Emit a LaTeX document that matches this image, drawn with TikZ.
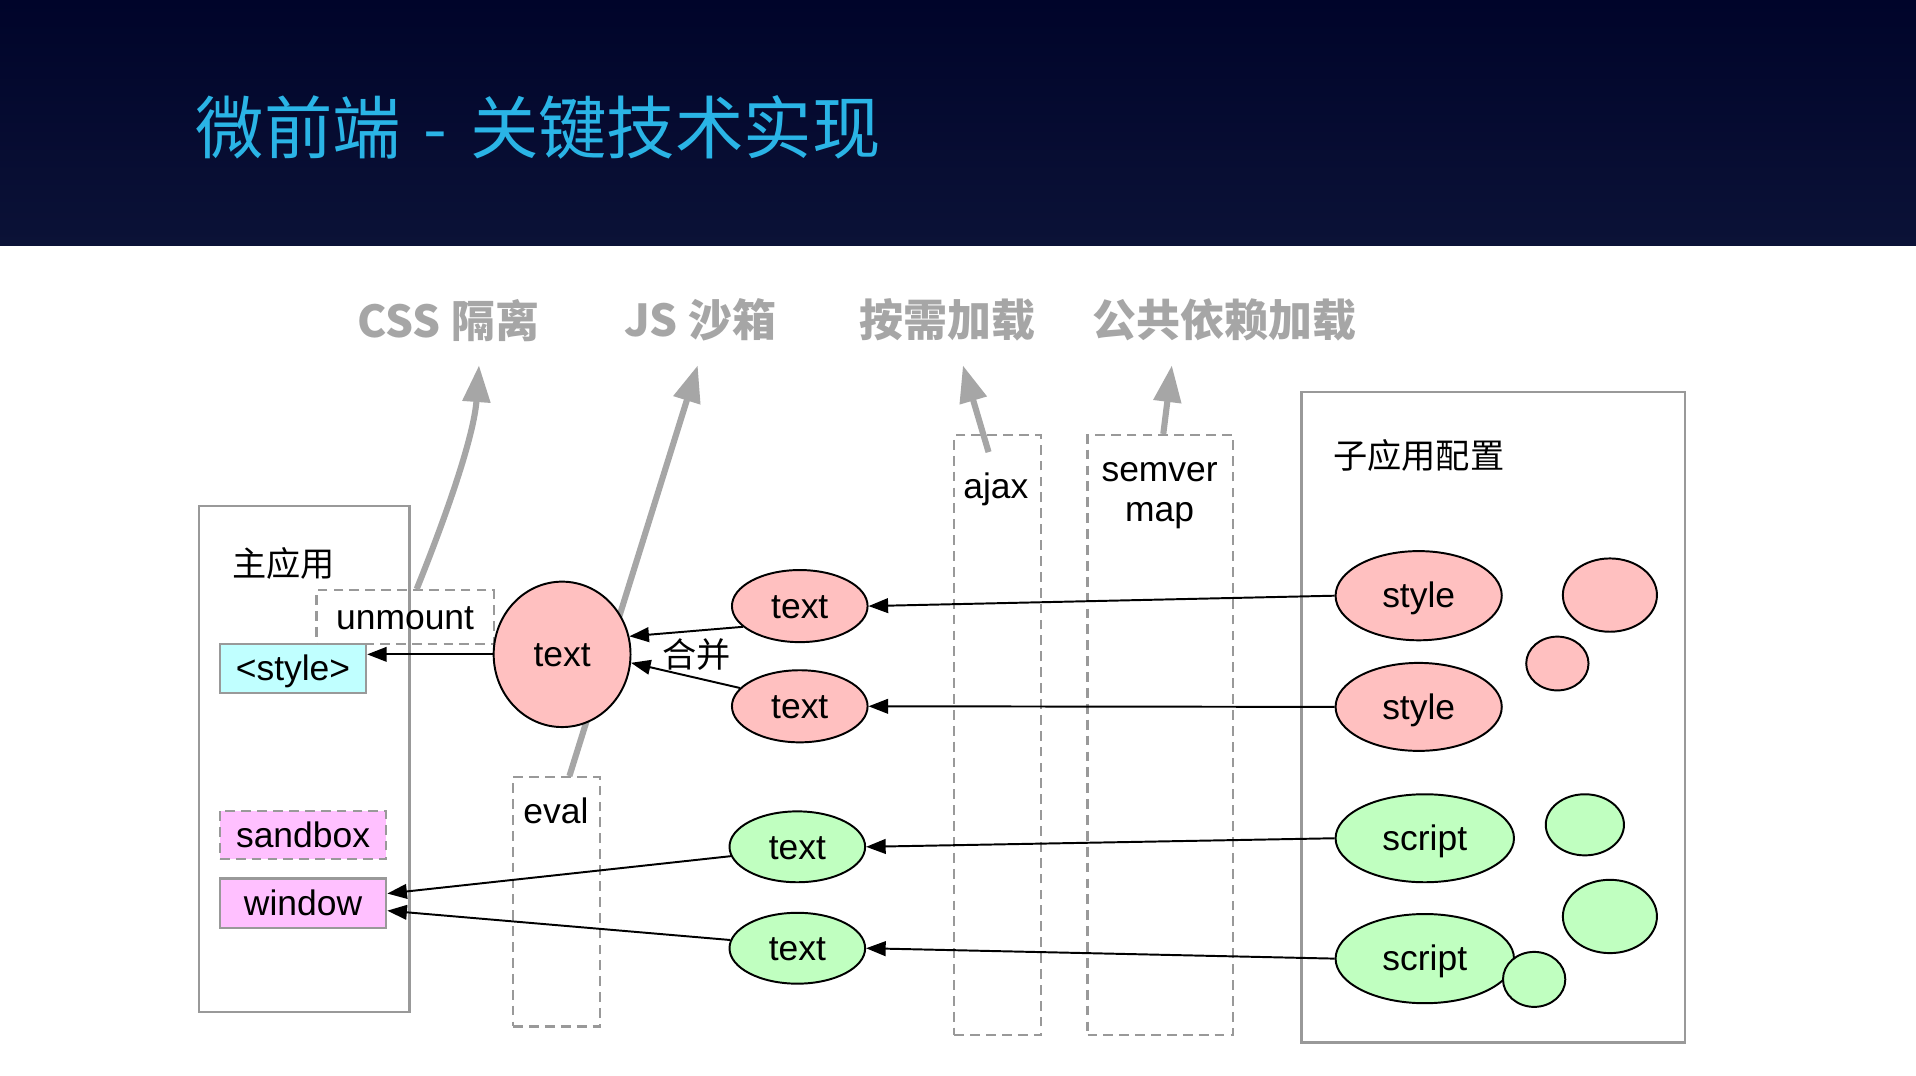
\documentclass[tikz,border=0pt]{standalone}
\usepackage{fontspec}
\setmainfont{Liberation Sans}
\newfontfamily\cjk{Noto Sans CJK SC}
\usetikzlibrary{shapes.geometric,arrows.meta}
\definecolor{pinkf}{HTML}{FFC0C0}
\definecolor{greenf}{HTML}{C0FFC0}
\definecolor{cyanf}{HTML}{C0FFFF}
\definecolor{magf}{HTML}{FFC0FF}
\definecolor{boxg}{HTML}{999999}
\definecolor{headg}{HTML}{A6A6A6}
\definecolor{navytop}{HTML}{00042A}
\definecolor{navybot}{HTML}{0B1237}
\definecolor{titlec}{HTML}{2AB4E6}
\begin{document}
\begin{tikzpicture}[x=1pt,y=-1pt,
 lbl/.style={font=\fontsize{29}{34}\selectfont, inner sep=0pt, text height=23pt, text depth=3pt},
 cjklbl/.style={font=\cjk\fontsize{28}{34}\selectfont, inner sep=0pt},
 ell/.style={ellipse, draw=black, line width=1.6pt, inner sep=0pt, lbl},
 pinkell/.style={ell, fill=pinkf},
 greenell/.style={ell, fill=greenf},
 solidbox/.style={draw=boxg, line width=2pt, inner sep=0pt},
 dbox/.style={draw=boxg, line width=1.8pt, dash pattern=on 8pt off 5pt, inner sep=0pt},
 arr/.style={draw=black, line width=1.6pt, -{Triangle[length=16pt,width=12pt]}},
 garr/.style={draw=headg, line width=5pt, -{Triangle[length=30pt,width=22pt]}},
 headtxt/.style={font=\cjk\bfseries\fontsize{36}{40}\selectfont, text=headg, inner sep=0pt},
]
\useasboundingbox (0,0) rectangle (1568,880.5);
\fill[white] (0,0) rectangle (1568,880.5);
% header
\shade[top color=navytop, bottom color=navybot] (0,0) rectangle (1568,201);
\node[anchor=west, font=\cjk\fontsize{56}{60}\selectfont, text=titlec, inner sep=0pt] (title) at (160,104) {微前端\hspace{6pt} - \hspace{6pt}关键技术实现};

% headings
\node[headtxt] (h1) at (367,262) {CSS 隔离};
\node[headtxt] (h2) at (573,262) {JS 沙箱};
\node[headtxt] (h3) at (775,262) {按需加载};
\node[headtxt] (h4) at (1002,262) {公共依赖加载};

% containers
\node[solidbox, minimum width=172pt, minimum height=414pt] (main) at (249,621) {};
\node[cjklbl] (mainlbl) at (232,461) {主应用};
\node[solidbox, minimum width=314pt, minimum height=532pt] (sub) at (1222,587) {};
\node[cjklbl] (sublbl) at (1161,373) {子应用配置};

\node[dbox, lbl, minimum width=145pt, minimum height=44pt] (um) at (331.5,505) {unmount};
\node[dbox, minimum width=71pt, minimum height=204pt] (ev) at (455.5,738) {};
\node[lbl] (evlbl) at (455,664) {eval};
\node[lbl] (ajlbl) at (815,398) {ajax};
\node[dbox, minimum width=71pt, minimum height=491pt] (aj) at (816.5,601.5) {};
\node[dbox, minimum width=119pt, minimum height=491pt] (sm) at (949.5,601.5) {};
\node[lbl] (smlbl1) at (949,384) {semver};
\node[lbl] (smlbl2) at (949,416.5) {map};

% gray arrows
\coordinate (cssTip) at (392,299);
\coordinate (jsTip) at (571,299);
\coordinate (ajFrom) at (809,370);
\coordinate (ajTip) at (788,299);
\coordinate (smTip) at (959,299);
\draw[garr] ([xshift=9.5pt]um.north) .. controls (368,415) and (388,355) .. (cssTip);
\draw[garr] ([xshift=10.5pt]ev.north) -- (jsTip);
\draw[garr] (ajFrom) -- (ajTip);
\draw[garr] ([xshift=2.5pt]sm.north) -- (smTip);

% filled nodes
\node[solidbox, lbl, fill=cyanf, minimum width=119.5pt, minimum height=40pt] (sty) at (239.75,547) {<style>};
\node[dbox, lbl, fill=magf, minimum width=136pt, minimum height=39.5pt] (sbx) at (248,683.25) {sandbox};
\node[solidbox, lbl, fill=magf, minimum width=136pt, minimum height=40.5pt] (win) at (248,739.25) {window};

\node[pinkell, minimum width=112pt, minimum height=119pt] (C) at (460,535.5) {text};
\node[pinkell, minimum width=111pt, minimum height=59pt] (t1) at (654.5,496) {text};
\node[pinkell, minimum width=111pt, minimum height=59pt] (t2) at (654.5,578) {text};
\node[greenell, minimum width=111pt, minimum height=58pt] (t3) at (652.5,693) {text};
\node[greenell, minimum width=111pt, minimum height=58pt] (t4) at (652.5,776) {text};

\node[pinkell, minimum width=136pt, minimum height=73pt] (st1) at (1161,487.5) {style};
\node[pinkell, minimum width=136pt, minimum height=72pt] (st2) at (1161,578.5) {style};
\node[greenell, minimum width=146pt, minimum height=72pt] (sc1) at (1166,686) {script};
\node[greenell, minimum width=146pt, minimum height=73pt] (sc2) at (1166,784.5) {script};

\node[pinkell, minimum width=77pt, minimum height=60pt] (p1) at (1317.5,487) {};
\node[pinkell, minimum width=51pt, minimum height=44pt] (p2) at (1274.5,543) {};
\node[greenell, minimum width=64pt, minimum height=50pt] (g1) at (1297,675) {};
\node[greenell, minimum width=77pt, minimum height=60pt] (g2) at (1317.5,750) {};
\node[greenell, minimum width=51pt, minimum height=45pt] (g3) at (1255.5,801.5) {};

% black arrows
\draw[arr] (C.west) -- (C.west -| sty.east);
\draw[arr] (t1.200) -- (C.15);
\draw[arr] (t2.163) -- (C.353);
\draw[arr] (st1.west) -- (t1.east);
\draw[arr] (st2.west) -- (t2.east);
\draw[arr] (sc1.west) -- (t3.east);
\draw[arr] (sc2.west) -- (t4.east);
\draw[arr] (t3.188) -- ([yshift=8pt]win.east);
\draw[arr] (t4.173) -- ([yshift=-6pt]win.east);

\node[cjklbl] (merge) at (570,536) {合并};
\end{tikzpicture}
\end{document}
